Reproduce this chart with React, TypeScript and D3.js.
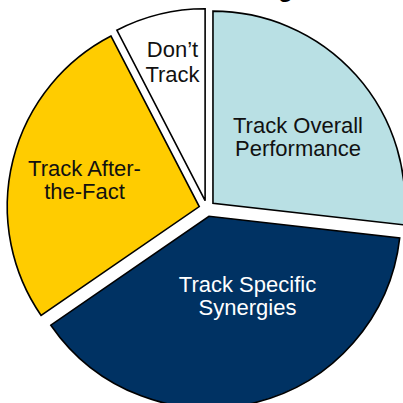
import React from "react";
import * as d3 from "d3";

const categories = ["Track Overall Performance", "Track Specific Synergies", "Track After-the-Fact", "Don\u2019t Track"];
const values = [26.8, 38.6, 27.0, 7.6];
const labelLines = [["Track Overall", "Performance"], ["Track Specific", "Synergies"], ["Track After-", "the-Fact"], ["Don\u2019t", "Track"]];
const colors = ["#B9E0E4", "#003263", "#FFCC00", "#FFFFFF"];
const textColors = ["#111111", "#FFFFFF", "#111111", "#111111"];
const titleText = "Tracking";

export default function App() {
  const W = 403, H = 403;
  const cx = 207, cy = 208.5, r = 192, explode = 8;
  const pie = d3.pie<number>().sort(null).startAngle(0).endAngle(2 * Math.PI);
  const arcs = pie(values);
  const arc = d3.arc<d3.PieArcDatum<number>>().innerRadius(0).outerRadius(r);
  const labelPos = [
    [298, 133], [247.5, 292], [84.5, 176], [172.5, 57],
  ];
  return (
    <svg width={W} height={H} style={{ position: "absolute", left: 0, top: 0, background: "#fff" }}>
      <text x={293} y={-3} textAnchor="end" fontFamily="Liberation Sans, Arial, sans-serif" fontWeight="bold" fontSize={24} fill="#000">{titleText}</text>
      <g transform={`translate(${cx},${cy})`}>
        {arcs.map((a, i) => {
          const mid = (a.startAngle + a.endAngle) / 2;
          const dx = Math.sin(mid) * explode;
          const dy = -Math.cos(mid) * explode;
          return (
            <path key={categories[i]} d={arc(a) || ""} transform={`translate(${dx},${dy})`} fill={colors[i]} stroke="#000" strokeWidth={1.6} strokeLinejoin="miter" />
          );
        })}
      </g>
      {labelLines.map((lines, i) => (
        <text key={i} fontFamily="Liberation Sans, Arial, sans-serif" fontSize={22} fill={textColors[i]} textAnchor="middle">
          {lines.map((l, j) => (
            <tspan key={j} x={labelPos[i][0]} y={labelPos[i][1] + j * (i === 3 ? 25 : 22.5)}>{l}</tspan>
          ))}
        </text>
      ))}
    </svg>
  );
}
